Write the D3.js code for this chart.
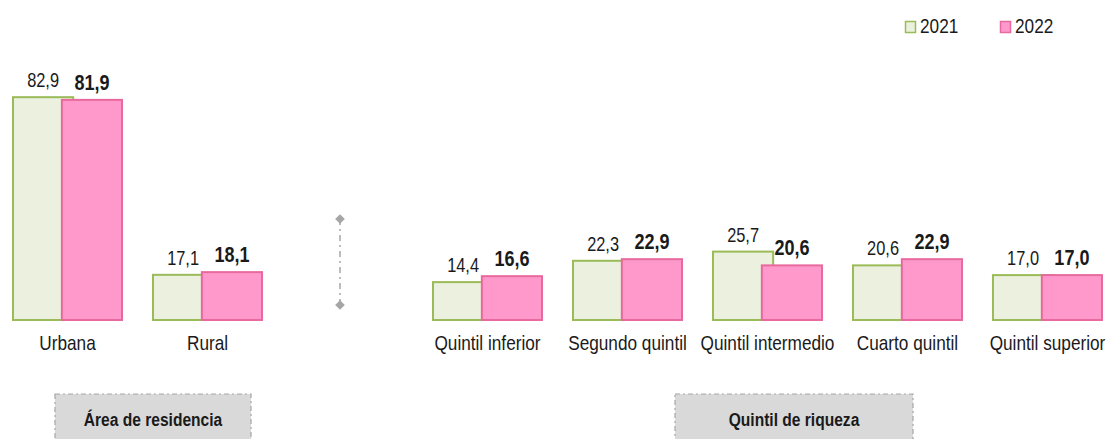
<!DOCTYPE html>
<html>
<head>
<meta charset="utf-8">
<script src="https://cdn.jsdelivr.net/npm/d3@7"></script>
<style>
  body { margin: 0; background: #fff; }
  svg text { font-family: "Liberation Sans Narrow", "Arial Narrow", "Liberation Sans", Arial, sans-serif; fill: #1a1a1a; }
</style>
</head>
<body>
<div id="chart"></div>
<script>
// categories (the empty slot is the gap between the two groups)
const categories = ["Urbana", "Rural", "", "Quintil inferior", "Segundo quintil", "Quintil intermedio", "Cuarto quintil", "Quintil superior"];
const series = ["2021", "2022"];
const values2021 = [82.9, 17.1, null, 14.4, 22.3, 25.7, 20.6, 17.0];
const values2022 = [81.9, 18.1, null, 16.6, 22.9, 20.6, 22.9, 17.0];
const groupLabels = ["Área de residencia", "Quintil de riqueza"];

const width = 1107, height = 439;
const colors = {
    "2021": { fill: "#EBF1DE", stroke: "#9BBB59" },
    "2022": { fill: "#FF99CC", stroke: "#E8699D" }
};
// no narrow font installed: squeeze the regular one horizontally
const squeeze = 0.82;

const svg = d3.select("#chart").append("svg")
    .attr("width", width)
    .attr("height", height);

const x = d3.scaleBand()
    .domain(d3.range(categories.length))
    .range([12, 1103])
    .paddingInner(0.207)
    .paddingOuter(0);

const y = d3.scaleLinear().domain([0, 100]).range([320, 50]);

const barW = x.bandwidth() * 0.56;
const offset = { "2021": 0, "2022": x.bandwidth() - barW };
const fmt = v => d3.format(".1f")(v).replace(".", ",");

// places a text at (tx, ty) with a horizontal squeeze
function narrow(sel, tx, ty) {
    sel.attr("x", 0).attr("y", 0)
        .attr("transform", (d, i) => `translate(${tx(d, i)},${ty(d, i)}) scale(${squeeze},1)`);
}

const rows = [];
categories.forEach((c, i) => {
    if (values2021[i] == null) return;
    rows.push({ i, key: "2021", v: values2021[i] });
    rows.push({ i, key: "2022", v: values2022[i] });
});

// bars
svg.append("g").selectAll("rect")
    .data(rows)
    .join("rect")
    .attr("x", d => x(d.i) + offset[d.key] + 1)
    .attr("y", d => y(d.v) + 1)
    .attr("width", barW - 2)
    .attr("height", d => y(0) - y(d.v) - 1)
    .attr("fill", d => colors[d.key].fill)
    .attr("stroke", d => colors[d.key].stroke)
    .attr("stroke-width", 2);

// value labels
svg.append("g").selectAll("text")
    .data(rows)
    .join("text")
    .call(narrow, d => x(d.i) + offset[d.key] + barW / 2, d => y(d.v) - 9)
    .attr("text-anchor", "middle")
    .style("font-size", d => d.key === "2022" ? "22px" : "20px")
    .style("font-weight", d => d.key === "2022" ? "bold" : "normal")
    .text(d => fmt(d.v));

// category axis
const xAxis = svg.append("g")
    .attr("transform", `translate(0,${y(0)})`)
    .call(d3.axisBottom(x).tickSize(0).tickPadding(14).tickFormat(i => categories[i]));
xAxis.select(".domain").remove();
xAxis.attr("font-family", null).attr("font-size", null);
xAxis.selectAll("text")
    .attr("dy", null)
    .attr("transform", `translate(0,30) scale(${squeeze},1)`)
    .attr("y", 0)
    .style("font-size", "21px");

// separator between groups
const sepX = 340;
const sep = svg.append("g").attr("stroke", "#A6A6A6").attr("fill", "#A6A6A6");
sep.append("line")
    .attr("x1", sepX).attr("x2", sepX)
    .attr("y1", 219).attr("y2", 305)
    .attr("stroke-width", 1.5)
    .attr("stroke-dasharray", "6,4,2,4");
[219, 305].forEach(cy => {
    sep.append("path")
        .attr("d", d3.symbol(d3.symbolDiamond2, 60)())
        .attr("stroke", "none")
        .attr("transform", `translate(${sepX},${cy})`);
});

// group label boxes
const boxes = [
    { label: groupLabels[0], x0: 55, x1: 251 },
    { label: groupLabels[1], x0: 675, x1: 913 }
];
const bx = svg.append("g").selectAll("g").data(boxes).join("g");
bx.append("rect")
    .attr("x", d => d.x0).attr("y", 394)
    .attr("width", d => d.x1 - d.x0).attr("height", 60)
    .attr("fill", "#D9D9D9")
    .attr("stroke", "#A6A6A6")
    .attr("stroke-width", 1.2)
    .attr("stroke-dasharray", "5,3,2,3");
bx.append("text")
    .call(narrow, d => (d.x0 + d.x1) / 2, () => 426)
    .attr("text-anchor", "middle")
    .style("font-size", "19px")
    .style("font-weight", "bold")
    .text(d => d.label);

// legend
const legend = svg.append("g").selectAll("g")
    .data(series)
    .join("g")
    .attr("transform", (d, i) => `translate(${905 + i * 95},21)`);
legend.append("rect")
    .attr("x", 0.5).attr("y", 0.5)
    .attr("width", 10).attr("height", 11)
    .attr("fill", d => colors[d].fill)
    .attr("stroke", d => colors[d].stroke)
    .attr("stroke-width", 1.5);
legend.append("text")
    .call(narrow, () => 15, () => 12)
    .style("font-size", "21px")
    .text(d => d);
</script>
</body>
</html>
